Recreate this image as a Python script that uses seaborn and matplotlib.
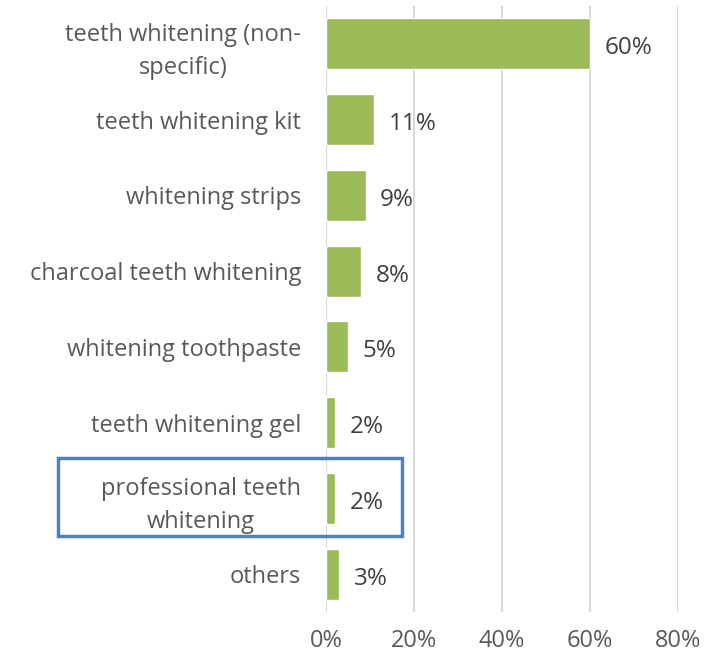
import matplotlib
matplotlib.use("Agg")
import matplotlib.pyplot as plt
from matplotlib.patches import Rectangle
import seaborn as sns
import pandas as pd

categories = [
    "teeth whitening (non-\nspecific)",
    "teeth whitening kit",
    "whitening strips",
    "charcoal teeth whitening",
    "whitening toothpaste",
    "teeth whitening gel",
    "professional teeth\nwhitening",
    "others",
]
shares = [60, 11, 9, 8, 5, 2, 2, 3]
tick_values = [0, 20, 40, 60, 80]
tick_labels = ["0%", "20%", "40%", "60%", "80%"]

df = pd.DataFrame({"category": categories, "share": shares})

sns.set_theme(style="white")
plt.rcParams["font.family"] = ["Open Sans", "DejaVu Sans"]

fig = plt.figure(figsize=(7.22, 6.61), dpi=100)
ax = fig.add_axes([326 / 722, 1 - 612 / 661, (678 - 326) / 722, (612 - 6) / 661])

sns.barplot(data=df, x="share", y="category", color="#9BBB59", width=0.67,
            saturation=1, ax=ax, zorder=3)

ax.set_xlim(0, 80)
ax.set_xticks(tick_values)
ax.set_xticklabels(tick_labels)
ax.set_xlabel("")
ax.set_ylabel("")
ax.grid(axis="x", color="#D9D9D9", linewidth=1.5, zorder=0)
ax.grid(axis="y", visible=False)
for s in ax.spines.values():
    s.set_visible(False)
ax.tick_params(axis="both", length=0, labelsize=17, colors="#595959")
ax.tick_params(axis="x", pad=12)
ax.tick_params(axis="y", pad=18)
for lbl in ax.get_yticklabels():
    lbl.set_multialignment("center")
    lbl.set_linespacing(1.5)

for i, v in enumerate(shares):
    ax.text(v + 3.3, i + 0.06, f"{v}%", va="center", ha="left",
            fontsize=17.5, color="#404040", zorder=4)

# highlight box around the professional whitening row
fig.patches.append(Rectangle((58 / 722, 1 - 536 / 661), (402 - 58) / 722, (536 - 458) / 661,
                             transform=fig.transFigure, fill=False,
                             edgecolor="#4F81BD", linewidth=2.5, zorder=10))

fig.savefig("out.png", dpi=100)
